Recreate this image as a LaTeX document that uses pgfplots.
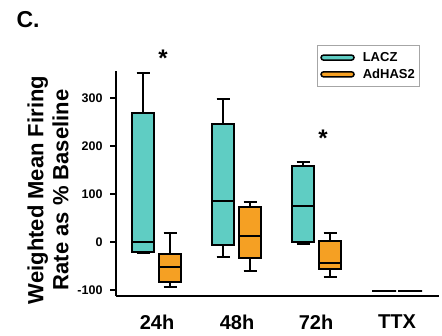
\documentclass[border=0pt]{standalone}
\usepackage{pgfplots}
\pgfplotsset{compat=1.18}
\usepgfplotslibrary{statistics}
\usepackage{fontspec}
\setmainfont{Liberation Sans}
\definecolor{lacz}{RGB}{95,205,195}
\definecolor{adh}{RGB}{245,160,35}
\begin{document}
\begin{tikzpicture}[x=1pt,y=1pt]
\useasboundingbox (0,0) rectangle (442,335);
\node[font=\bfseries\fontsize{23}{27}\selectfont, anchor=west] at (13,315) {C.};
\node[rotate=90, align=center, font=\bfseries\fontsize{22}{25}\selectfont] at (48,145) {Weighted Mean Firing\\Rate as \% Baseline};
\begin{axis}[
  at={(116pt,39pt)}, anchor=south west, scale only axis,
  width=323pt, height=225pt,
  xmin=116, xmax=439, ymin=-112.5, ymax=356,
  axis lines*=left,
  axis line style={line width=2.2pt, black},
  clip=false,
  boxplot/draw direction=y,
  xtick={157,237,316,397},
  xticklabels={24h,48h,72h,TTX},
  x tick label style={font=\bfseries\fontsize{20}{24}\selectfont, yshift=-9pt},
  xtick style={draw=none},
  ytick={-100,0,100,200,300},
  y tick label style={font=\bfseries\fontsize{12.5}{14}\selectfont, xshift=-4pt},
  ytick style={line width=2pt, black},
  tick align=outside,
  major tick length=6pt,
  /pgf/number format/assume math mode=true,
  legend style={at={(0.622,1.116)}, anchor=north west, draw=gray!70, line width=0.8pt,
    font=\bfseries\fontsize{13}{15}\selectfont, inner xsep=3pt, inner ysep=5pt, row sep=2pt,
    /tikz/every odd column/.append style={column sep=6pt}},
  legend cell align=left,
]
\addlegendimage{legend image code/.code={\draw[fill=lacz, line width=1.5pt, rounded corners=2.5pt] (0pt,-2.5pt) rectangle (33pt,2.5pt);}}
\addlegendentry{LACZ}
\addlegendimage{legend image code/.code={\draw[fill=adh, line width=1.5pt, rounded corners=2.5pt] (0pt,-2.5pt) rectangle (33pt,2.5pt);}}
\addlegendentry{AdHAS2}
% LACZ
\addplot[forget plot, draw=black, fill=lacz, line width=2pt, boxplot prepared={lower whisker=-24, lower quartile=-20, median=0, upper quartile=269, upper whisker=352, draw position=143, box extend=22, whisker extend=13}] coordinates {};
\addplot[forget plot, draw=black, fill=lacz, line width=2pt, boxplot prepared={lower whisker=-31, lower quartile=-6, median=85, upper quartile=246, upper whisker=298, draw position=223, box extend=22, whisker extend=13}] coordinates {};
\addplot[forget plot, draw=black, fill=lacz, line width=2pt, boxplot prepared={lower whisker=-4, lower quartile=0, median=75, upper quartile=158, upper whisker=167, draw position=303, box extend=22, whisker extend=13}] coordinates {};
\addplot[forget plot, draw=black, fill=lacz, line width=2pt, boxplot prepared={lower whisker=-102, lower quartile=-102, median=-102, upper quartile=-102, upper whisker=-102, draw position=384, box extend=24, whisker extend=13}] coordinates {};
% AdHAS2
\addplot[forget plot, draw=black, fill=adh, line width=2pt, boxplot prepared={lower whisker=-94, lower quartile=-83, median=-52, upper quartile=-25, upper whisker=19, draw position=170, box extend=22, whisker extend=13}] coordinates {};
\addplot[forget plot, draw=black, fill=adh, line width=2pt, boxplot prepared={lower whisker=-60, lower quartile=-33, median=13, upper quartile=73, upper whisker=83, draw position=250, box extend=22, whisker extend=13}] coordinates {};
\addplot[forget plot, draw=black, fill=adh, line width=2pt, boxplot prepared={lower whisker=-73, lower quartile=-56, median=-44, upper quartile=2, upper whisker=19, draw position=330, box extend=22, whisker extend=13}] coordinates {};
\addplot[forget plot, draw=black, fill=adh, line width=2pt, boxplot prepared={lower whisker=-102, lower quartile=-102, median=-102, upper quartile=-102, upper whisker=-102, draw position=410, box extend=24, whisker extend=13}] coordinates {};
\node[font=\bfseries\fontsize{24}{28}\selectfont] at (axis cs:163,382) {*};
\node[font=\bfseries\fontsize{24}{28}\selectfont] at (axis cs:323,215) {*};
\end{axis}
\end{tikzpicture}
\end{document}
